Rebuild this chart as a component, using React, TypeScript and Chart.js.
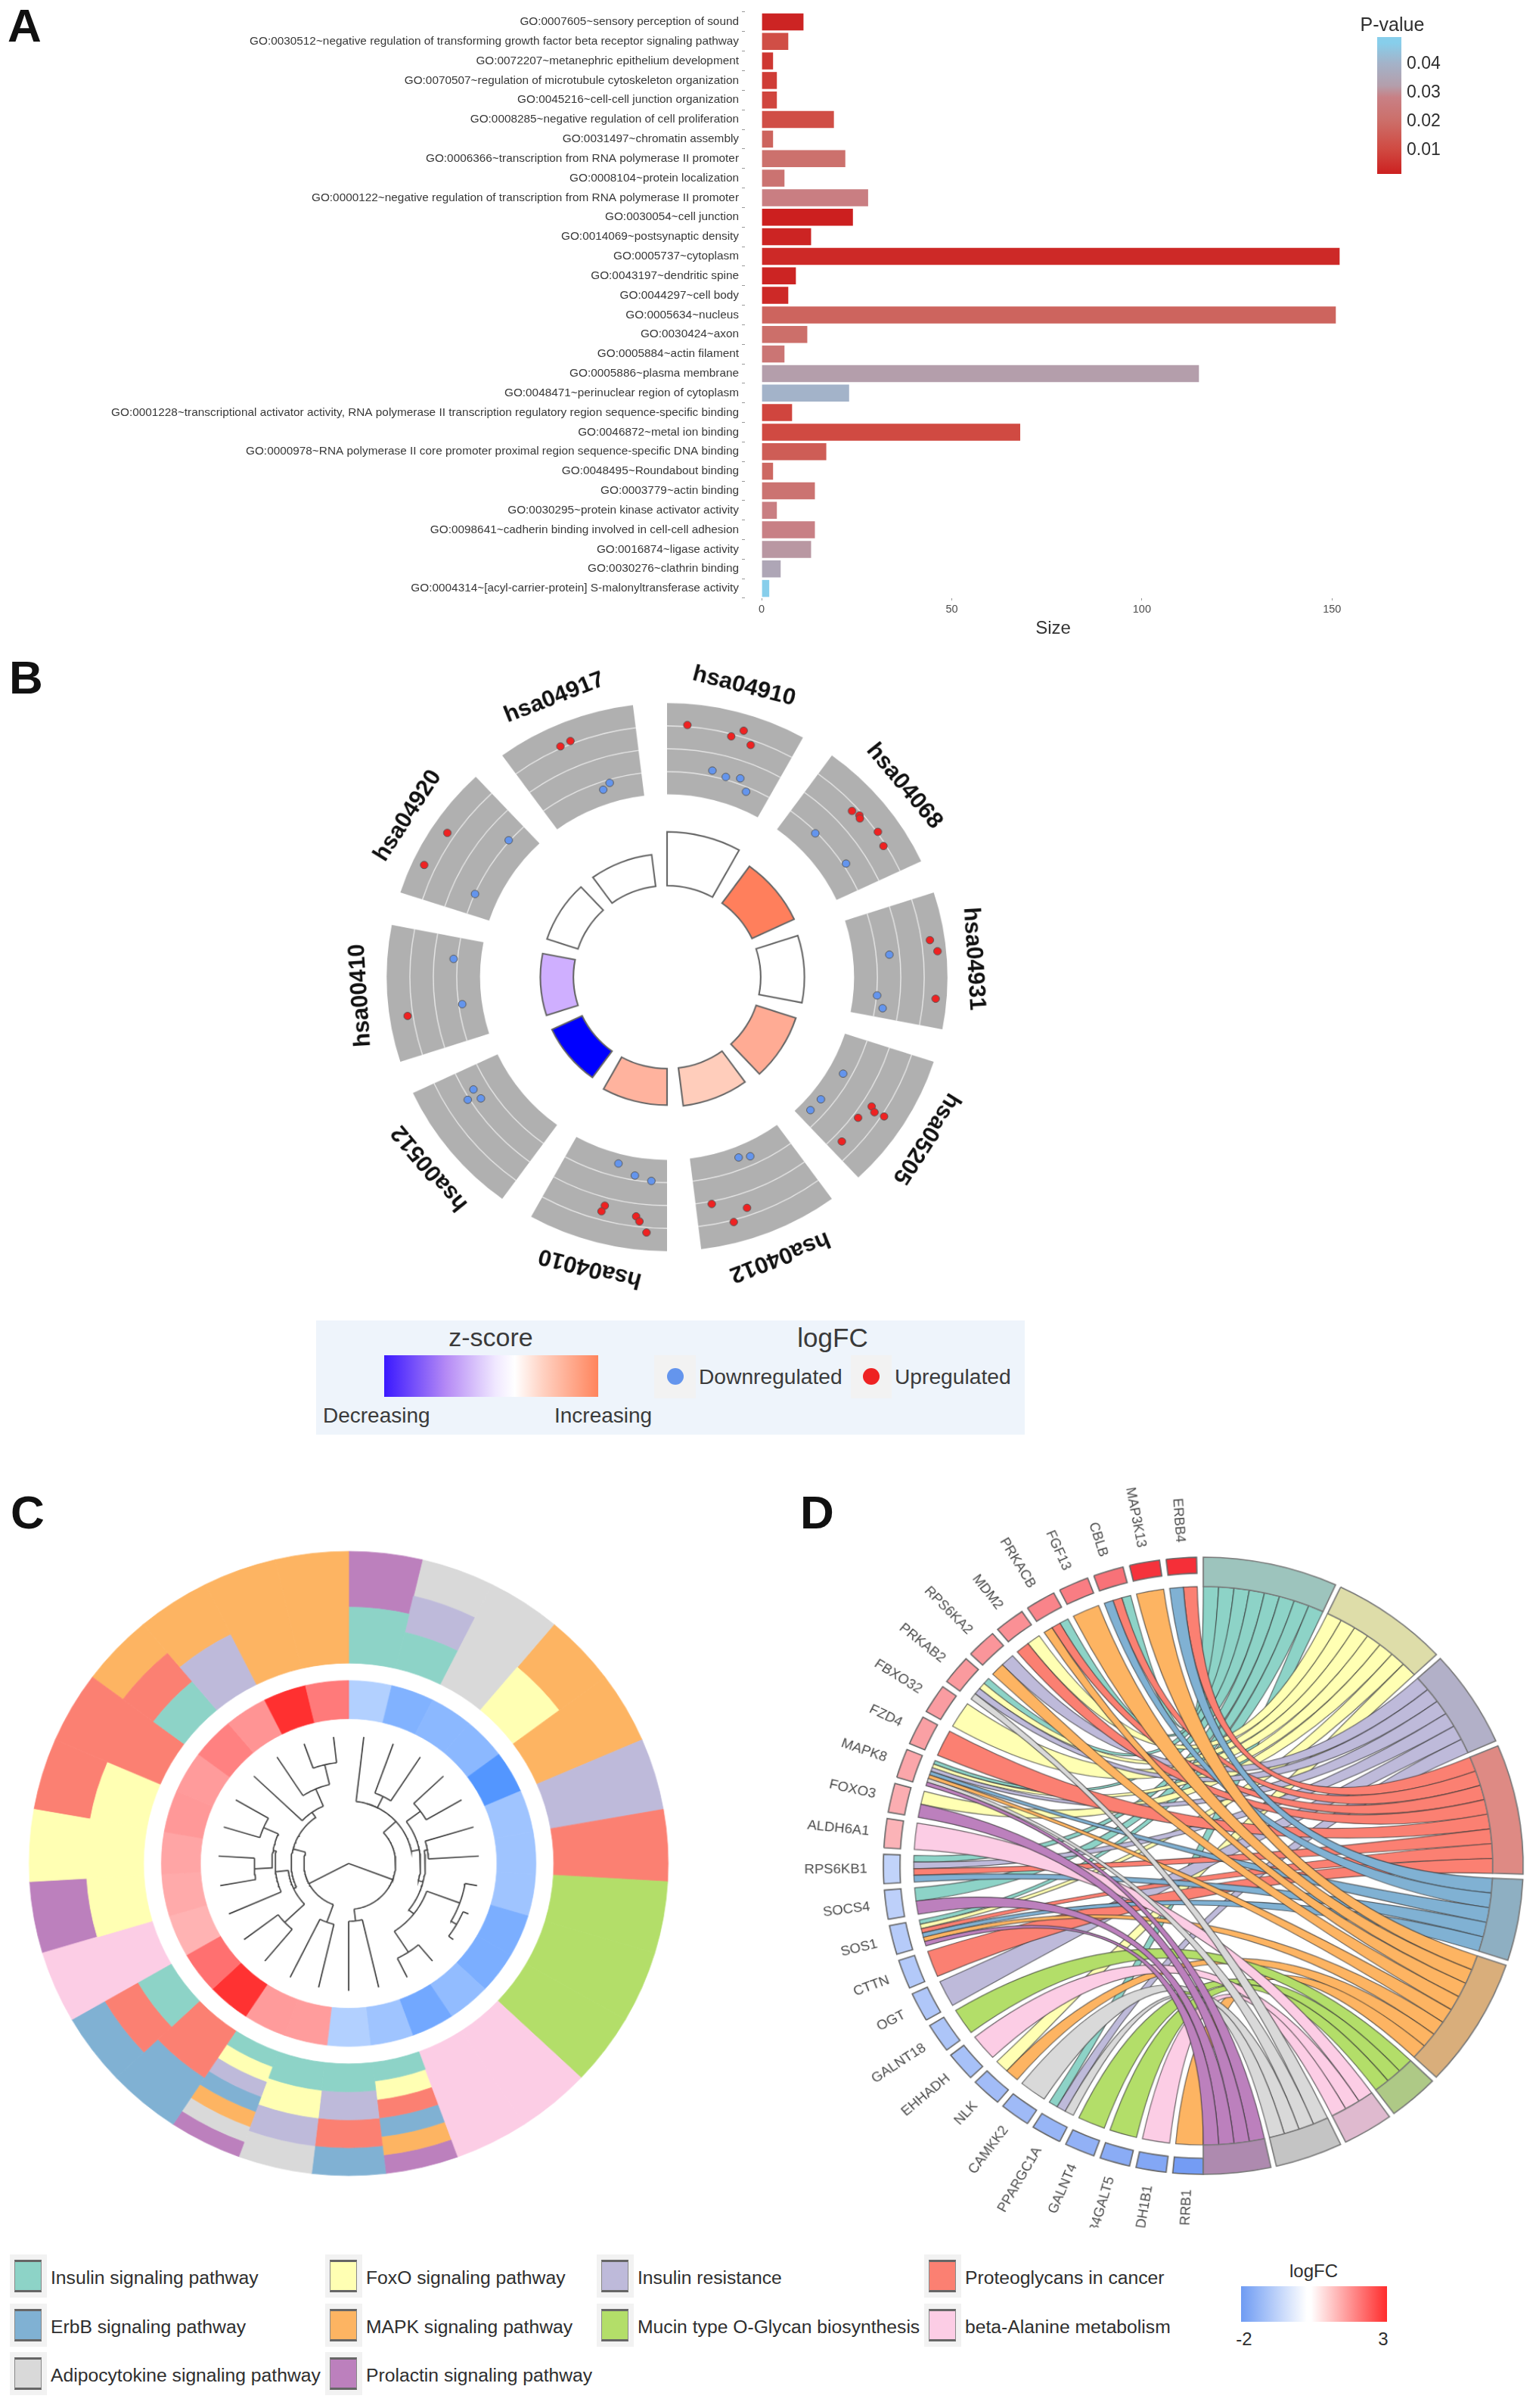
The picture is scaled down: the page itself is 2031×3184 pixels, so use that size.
import React, { useEffect, useRef } from "react";
import { Chart, registerables } from "chart.js";

Chart.register(...registerables);
const FONT = "'Liberation Sans', Arial, sans-serif";
Chart.defaults.font.family = FONT;

/* ---------- Panel A data ---------- */
const goLabels = [
  "GO:0007605~sensory perception of sound",
  "GO:0030512~negative regulation of transforming growth factor beta receptor signaling pathway",
  "GO:0072207~metanephric epithelium development",
  "GO:0070507~regulation of microtubule cytoskeleton organization",
  "GO:0045216~cell-cell junction organization",
  "GO:0008285~negative regulation of cell proliferation",
  "GO:0031497~chromatin assembly",
  "GO:0006366~transcription from RNA polymerase II promoter",
  "GO:0008104~protein localization",
  "GO:0000122~negative regulation of transcription from RNA polymerase II promoter",
  "GO:0030054~cell junction",
  "GO:0014069~postsynaptic density",
  "GO:0005737~cytoplasm",
  "GO:0043197~dendritic spine",
  "GO:0044297~cell body",
  "GO:0005634~nucleus",
  "GO:0030424~axon",
  "GO:0005884~actin filament",
  "GO:0005886~plasma membrane",
  "GO:0048471~perinuclear region of cytoplasm",
  "GO:0001228~transcriptional activator activity, RNA polymerase II transcription regulatory region sequence-specific binding",
  "GO:0046872~metal ion binding",
  "GO:0000978~RNA polymerase II core promoter proximal region sequence-specific DNA binding",
  "GO:0048495~Roundabout binding",
  "GO:0003779~actin binding",
  "GO:0030295~protein kinase activator activity",
  "GO:0098641~cadherin binding involved in cell-cell adhesion",
  "GO:0016874~ligase activity",
  "GO:0030276~clathrin binding",
  "GO:0004314~[acyl-carrier-protein] S-malonyltransferase activity",
];
const goSizes = [11, 7, 3, 4, 4, 19, 3, 22, 6, 28, 24, 13, 152, 9, 7, 151, 12, 6, 115, 23, 8, 68, 17, 3, 14, 4, 14, 13, 5, 2];
const goPValues = [0.002, 0.011, 0.006, 0.007, 0.009, 0.011, 0.017, 0.021, 0.022, 0.027, 0.001, 0.002, 0.003, 0.002, 0.003, 0.017, 0.02, 0.023, 0.032, 0.04, 0.009, 0.01, 0.015, 0.018, 0.022, 0.027, 0.028, 0.031, 0.035, 0.048];
const pStops: [number, string][] = [[0.001, "#cc1f1f"], [0.01, "#d04a42"], [0.02, "#cc6f6a"], [0.028, "#c88085"], [0.032, "#b49eab"], [0.04, "#a3b3c9"], [0.047, "#87ceeb"]];
const pTicks = ["0.04", "0.03", "0.02", "0.01"];

/* ---------- Panel B data ---------- */
const keggTerms = ["hsa04910", "hsa04068", "hsa04931", "hsa05205", "hsa04012", "hsa04010", "hsa00512", "hsa00410", "hsa04920", "hsa04917"];
const keggBarHeight = [0.53, 0.5, 0.49, 0.483, 0.473, 0.467, 0.453, 0.452, 0.45, 0.45];
const keggZColor = ["#ffffff", "#ff7f5c", "#ffffff", "#ffab94", "#ffcdbb", "#ffb39e", "#0000ff", "#cfafff", "#ffffff", "#ffffff"];
const upTheta = [4.5, 14.6, 16.9, 19.4, 47.4, 49.3, 49.9, 54.8, 58.2, 81.8, 84.4, 94.7, 122.9, 123.7, 127, 123.3, 133.9, 169.1, 161.3, 165.1, 194.9, 195.3, 187.2, 186.3, 184.5, 261.3, 303.9, 295.3, 338.2, 335.7];
const upRadial = [0.923, 0.908, 0.94, 0.898, 0.896, 0.905, 0.899, 0.92, 0.908, 0.947, 0.969, 0.961, 0.869, 0.889, 0.853, 0.926, 0.865, 0.843, 0.889, 0.925, 0.863, 0.886, 0.88, 0.897, 0.935, 0.936, 0.944, 0.958, 0.928, 0.924];
const downTheta = [12.1, 16, 19.8, 22.6, 45.2, 57, 84.1, 95.1, 98.4, 119.3, 129.1, 133.5, 158.8, 155.6, 194.3, 189, 184.3, 239.3, 236.3, 237.8, 275, 262.3, 311.5, 293.9, 343.9, 341.6];
const downRadial = [0.771, 0.76, 0.771, 0.733, 0.745, 0.761, 0.797, 0.752, 0.777, 0.72, 0.707, 0.705, 0.706, 0.718, 0.702, 0.733, 0.746, 0.803, 0.798, 0.84, 0.764, 0.737, 0.754, 0.749, 0.738, 0.721];

/* ---------- Panels C and D data ---------- */
const pathways = ["Insulin signaling pathway", "FoxO signaling pathway", "Insulin resistance", "Proteoglycans in cancer", "ErbB signaling pathway", "MAPK signaling pathway", "Mucin type O-Glycan biosynthesis", "beta-Alanine metabolism", "Adipocytokine signaling pathway", "Prolactin signaling pathway"];
const pathwayColors = ["#8dd3c7", "#ffffb3", "#bebada", "#fb8072", "#80b1d3", "#fdb462", "#b3de69", "#fccde5", "#d9d9d9", "#bc80bd"];
const pathwayMuted = ["#9dc4bd", "#dedda9", "#b2b0c8", "#de8a84", "#8eafc2", "#d9ae7b", "#aec986", "#dfbacf", "#c4c4c4", "#ae8aaf"];
const geneNames = ["RRB1", "ALDH1B1", "B4GALT5", "GALNT4", "PPARGC1A", "CAMKK2", "NLK", "EHHADH", "GALNT18", "OGT", "CTTN", "SOS1", "SOCS4", "RPS6KB1", "ALDH6A1", "FOXO3", "MAPK8", "FZD4", "FBXO32", "PRKAB2", "RPS6KA2", "MDM2", "PRKACB", "FGF13", "CBLB", "MAP3K13", "ERBB4"];
const geneLogFC = [-1.9, -1.7, -1.6, -1.5, -1.42, -1.32, -1.28, -1.2, -1.12, -1.08, -1.04, -1, -0.9, -0.85, 1.02, 1.1, 1.2, 1.28, 1.33, 1.36, 1.42, 1.5, 1.65, 1.75, 1.9, 2.75, 2.8];
const genePathways = [[5], [7], [6], [6], [0, 2, 8], [8], [1, 5], [7], [6], [2], [3], [0, 1, 3, 4, 5, 9], [0, 9], [0, 2, 3, 4], [7], [1, 9], [0, 1, 2, 4, 5, 8, 9], [3], [1], [0, 1, 2, 8], [2, 5], [1, 3], [0, 3, 5], [5], [0, 3, 4], [5], [3, 4]];
const clusterOrder = ["SOCS4", "PPARGC1A", "CAMKK2", "NLK", "RRB1", "OGT", "CTTN", "GALNT18", "GALNT4", "B4GALT5", "EHHADH", "ALDH1B1", "SOS1", "RPS6KB1", "PRKAB2", "MAPK8", "ERBB4", "CBLB", "ALDH6A1", "FOXO3", "FBXO32", "MDM2", "FZD4", "PRKACB", "RPS6KA2", "MAP3K13", "FGF13"];
const clusterLogFC = [-0.85, -1.39, -1.28, -1.28, -1.9, -1.06, -1.06, -1.06, -1.46, -1.46, -1.2, -1.56, -1.06, -0.85, 1.33, 1.35, 2.76, 1.92, 1.02, 1.14, 1.21, 1.38, 1.35, 1.7, 1.44, 2.78, 1.79];
// nested dendrogram: [joinHeight, childA, childB]; numbers are leaf positions
const dendroTree: any = [0,
  [0.14,
    [0.18,
      [0.2, 23, [0.26, 24, [0.325, 25, 26]]],
      [0.19, [0.275, 16, 17], [0.23, 18, [0.24, [0.295, 19, 20], [0.29, 21, 22]]]]],
    [0.2, 14, 15]],
  [0.147,
    [0.2,
      [0.2, 0, [0.24, 1, 2]],
      [0.225, [0.28, 3, 4], [0.24, [0.25, 5, 6], [0.26, [0.37, 7, [0.39, 8, 9]], [0.34, 10, 11]]]]],
    [0.185, 12, 13]],
];

/* ---------- layout constants ---------- */
const SIZE = 1000;
const EXT = 1.25;
const T = "rgba(0,0,0,0)";
const rad = (d: number) => (d * Math.PI) / 180;
const polar = (theta: number, r: number) => ({ x: r * Math.sin(rad(theta)), y: r * Math.cos(rad(theta)) });

const hex = (c: string) => [1, 3, 5].map((i) => parseInt(c.slice(i, i + 2), 16));
const mix = (a: string, b: string, t: number) => {
  const A = hex(a), B = hex(b);
  return `rgb(${A.map((v, i) => Math.round(v + (B[i] - v) * t)).join(",")})`;
};
const pColor = (p: number) => {
  if (p <= pStops[0][0]) return pStops[0][1];
  for (let i = 1; i < pStops.length; i++) {
    if (p <= pStops[i][0]) return mix(pStops[i - 1][1], pStops[i][1], (p - pStops[i - 1][0]) / (pStops[i][0] - pStops[i - 1][0]));
  }
  return pStops[pStops.length - 1][1];
};
const fcColor = (v: number, lo: string, hi: string) => (v < 0 ? mix("#ffffff", lo, Math.min(1, -v / 2)) : mix("#ffffff", hi, Math.min(1, v / 3)));

const radialBands = {
  id: "radialBands",
  afterDatasetsUpdate(chart: any) {
    const R = chart.chartArea.width / 2 / EXT;
    chart.data.datasets.forEach((ds: any, i: number) => {
      if (!ds.bandInner) return;
      chart.getDatasetMeta(i).data.forEach((arc: any, j: number) => {
        arc.innerRadius = R * ds.bandInner[j];
        arc.outerRadius = R * ds.bandOuter[j];
      });
    });
  },
};

const polarOptions = (): any => ({
  responsive: false,
  animation: false,
  events: [],
  rotation: 0,
  layout: { padding: 0 },
  scales: {
    x: { type: "linear", display: false, min: -EXT, max: EXT },
    y: { type: "linear", display: false, min: -EXT, max: EXT },
  },
  plugins: { legend: { display: false }, tooltip: { enabled: false } },
});

/* ---------- chart builders ---------- */
function buildA(canvas: HTMLCanvasElement) {
  return new Chart(canvas, {
    type: "bar",
    data: {
      labels: goLabels,
      datasets: [{ data: goSizes, backgroundColor: goPValues.map(pColor), barPercentage: 0.87, categoryPercentage: 1, borderWidth: 0 }],
    },
    options: {
      indexAxis: "y",
      responsive: false,
      animation: false,
      events: [],
      layout: { padding: { top: 16 } },
      plugins: { legend: { display: false }, tooltip: { enabled: false } },
      scales: {
        x: {
          type: "linear", min: -4.4, max: 157.7,
          ticks: { stepSize: 50, includeBounds: false, maxRotation: 0, font: { size: 14.5 }, color: "#4d4d4d", padding: 3 },
          grid: { display: true, drawOnChartArea: false, drawTicks: true, tickLength: 3, color: "#999" },
          border: { display: false },
          title: { display: true, text: "Size", color: "#333", font: { size: 24 }, padding: { top: 4, bottom: 0 } },
          afterFit(s: any) { s.height = 55; },
        },
        y: {
          type: "category",
          ticks: { autoSkip: false, font: { size: 15.35 }, color: "#383838", padding: 4 },
          grid: { display: true, drawOnChartArea: false, drawTicks: true, tickLength: 4, color: "#999" },
          border: { display: false },
          afterFit(s: any) { s.width = 985; },
        },
      },
    } as any,
  });
}

const SPAN = 29, GAP = 7;
function buildB(canvas: HTMLCanvasElement) {
  const slots = keggTerms.flatMap(() => [SPAN, GAP]);
  const alt = (a: any, b: any) => keggTerms.flatMap((_, i) => [typeof a === "function" ? a(i) : a, b]);
  const line = (r: number) => ({
    data: slots, backgroundColor: alt("#e4e4e4", T), borderWidth: 0,
    bandInner: slots.map(() => r - 0.002), bandOuter: slots.map(() => r + 0.002),
  });
  const toPts = (th: number[], rr: number[]) => th.map((t, i) => polar(t, rr[i]));
  const labels = {
    id: "keggLabels",
    afterDatasetsDraw(chart: any) {
      const { ctx, scales } = chart;
      ctx.save();
      ctx.font = `bold 33px ${FONT}`;
      ctx.fillStyle = "#111";
      ctx.textAlign = "center";
      ctx.textBaseline = "middle";
      keggTerms.forEach((name, i) => {
        const th = SPAN / 2 + 36 * i;
        const p = polar(th, 1.096);
        ctx.save();
        ctx.translate(scales.x.getPixelForValue(p.x), scales.y.getPixelForValue(p.y));
        ctx.rotate(rad(th));
        ctx.fillText(name, 0, 0);
        ctx.restore();
      });
      ctx.restore();
    },
  };
  return new Chart(canvas, {
    type: "doughnut",
    data: {
      datasets: [
        { type: "scatter", indexAxis: "x", order: -2, data: toPts(upTheta, upRadial), backgroundColor: "#ee2222", borderColor: "#555", borderWidth: 1, pointRadius: 5.4 },
        { type: "scatter", indexAxis: "x", order: -2, data: toPts(downTheta, downRadial), backgroundColor: "#6495ed", borderColor: "#555", borderWidth: 1, pointRadius: 5.4 },
        line(0.75), line(0.8335), line(0.917),
        {
          data: slots, backgroundColor: alt("#b0b0b0", T), borderWidth: 0,
          bandInner: slots.map(() => 0.667), bandOuter: slots.map(() => 1),
        },
        {
          data: slots, backgroundColor: alt((i: number) => keggZColor[i], T),
          borderColor: alt("#666", T), borderWidth: alt(2.2, 0), borderJoinStyle: "miter",
          bandInner: slots.map(() => 0.334), bandOuter: keggTerms.flatMap((_, i) => [keggBarHeight[i], 0.334]),
        },
      ] as any,
    },
    options: polarOptions(),
    plugins: [radialBands, labels],
  });
}

function treeLines(node: any, slot: number, out: any[]): { theta: number; r: number } {
  const LEAF_R = 0.408;
  if (typeof node === "number") return { theta: (node + 0.5) * slot, r: LEAF_R };
  const [h, a, b] = node;
  const ca = treeLines(a, slot, out);
  const cb = treeLines(b, slot, out);
  const arc: any[] = [];
  const lo = Math.min(ca.theta, cb.theta), hi = Math.max(ca.theta, cb.theta);
  for (let t = lo; t < hi; t += 1.5) arc.push(polar(t, h));
  arc.push(polar(hi, h));
  if (h > 0) out.push(arc);
  out.push([polar(ca.theta, h), polar(ca.theta, ca.r)]);
  out.push([polar(cb.theta, h), polar(cb.theta, cb.r)]);
  return { theta: (ca.theta + cb.theta) / 2, r: h };
}

function buildC(canvas: HTMLCanvasElement) {
  const slots = clusterOrder.map(() => 1);
  const slot = 360 / clusterOrder.length;
  const members = clusterOrder.map((g) => genePathways[geneNames.indexOf(g)]);
  const IN = 0.642, OUT = 1;
  const bandSets: any[] = [];
  for (let k = 0; k < 7; k++) {
    const colors = members.map((m) => (k < m.length ? pathwayColors[m[k]] : T));
    bandSets.push({
      data: slots, backgroundColor: colors, borderColor: colors, borderWidth: 0.8,
      bandInner: members.map((m) => IN + (k * (OUT - IN)) / m.length),
      bandOuter: members.map((m) => IN + ((k + 1) * (OUT - IN)) / m.length),
    });
  }
  const heat = clusterLogFC.map((v) => fcColor(v, "#4a90ff", "#ff2020"));
  const lines: any[] = [];
  treeLines(dendroTree, slot, lines);
  return new Chart(canvas, {
    type: "doughnut",
    data: {
      datasets: [
        ...bandSets,
        { data: slots, backgroundColor: heat, borderColor: heat, borderWidth: 0.8, bandInner: slots.map(() => 0.464), bandOuter: slots.map(() => 0.586) },
        ...lines.map((pts) => ({ type: "scatter", indexAxis: "x", order: -1, data: pts, showLine: true, borderColor: "#444", borderWidth: 1.7, pointRadius: 0, tension: 0 })),
      ] as any,
    },
    options: polarOptions(),
    plugins: [radialBands],
  });
}

function buildD(canvas: HTMLCanvasElement, clipY: number) {
  const n = geneNames.length;
  const geneStep = 180 / n, geneSpan = 5.47;
  const TERM_GAP = 1;
  const counts = pathways.map((_, t) => genePathways.filter((m) => m.includes(t)).length);
  const unit = (180 - TERM_GAP * (pathways.length - 1)) / counts.reduce((a, b) => a + b, 0);
  const termStart: number[] = [];
  counts.reduce((acc, c, i) => { termStart[i] = acc; return acc + c * unit + TERM_GAP; }, 0);

  const termSlots: number[] = [];
  const termColors: string[] = [];
  const termBorders: string[] = [];
  const termWidths: number[] = [];
  counts.forEach((c, i) => {
    termSlots.push(c * unit);
    termColors.push(pathwayMuted[i]);
    termBorders.push("#777");
    termWidths.push(1.6);
    if (i < counts.length - 1) {
      termSlots.push(TERM_GAP); termColors.push(T); termBorders.push(T); termWidths.push(0);
    }
  });
  termSlots.push(180); termColors.push(T); termBorders.push(T); termWidths.push(0);

  const geneSlots: number[] = [180];
  const geneColors: string[] = [T];
  const geneBorders: string[] = [T];
  const geneWidths: number[] = [0];
  geneNames.forEach((_, i) => {
    geneSlots.push(geneSpan, geneStep - geneSpan);
    geneColors.push(fcColor(geneLogFC[i], "#6d97f3", "#f4202a"), T);
    geneBorders.push("#666", T);
    geneWidths.push(1.6, 0);
  });

  const RIB = 0.905;
  // ribbon ends for every gene-pathway pair
  const links: { t: number; a1: number; a2: number; t1: number; t2: number }[] = [];
  const linkPos: Record<string, [number, number]> = {};
  genePathways.forEach((m, g) => {
    const w = geneSpan / m.length;
    const desc = [...m].sort((a, b) => b - a);
    desc.forEach((t, k) => {
      const s = 180 + g * geneStep + k * w;
      linkPos[`${g}-${t}`] = [s, s + w];
    });
  });
  pathways.forEach((_, t) => {
    let pos = termStart[t];
    for (let g = n - 1; g >= 0; g--) {
      if (!genePathways[g].includes(t)) continue;
      const [a1, a2] = linkPos[`${g}-${t}`];
      links.push({ t, a1, a2, t1: pos, t2: pos + unit });
      pos += unit;
    }
  });

  const ribbons = {
    id: "ribbons",
    beforeDatasetsDraw(chart: any) {
      const { ctx, scales } = chart;
      const px = (th: number, r: number) => {
        const p = polar(th, r);
        return [scales.x.getPixelForValue(p.x), scales.y.getPixelForValue(p.y)];
      };
      const [cx, cy] = px(0, 0);
      const R = scales.x.getPixelForValue(RIB) - cx;
      ctx.save();
      ctx.lineWidth = 1.2;
      ctx.strokeStyle = "rgba(50,50,50,0.7)";
      links.forEach((l) => {
        const [ax, ay] = px(l.a1, RIB);
        const [tx, ty] = px(l.t1, RIB);
        ctx.beginPath();
        ctx.moveTo(tx, ty);
        ctx.arc(cx, cy, R, rad(l.t1 - 90), rad(l.t2 - 90));
        ctx.quadraticCurveTo(cx, cy, ax, ay);
        ctx.arc(cx, cy, R, rad(l.a1 - 90), rad(l.a2 - 90));
        ctx.quadraticCurveTo(cx, cy, tx, ty);
        ctx.closePath();
        ctx.fillStyle = pathwayColors[l.t];
        ctx.fill();
        ctx.stroke();
      });
      ctx.restore();
    },
    afterDatasetsDraw(chart: any) {
      const { ctx, scales, width } = chart;
      ctx.save();
      ctx.beginPath();
      ctx.rect(0, 0, width, clipY);
      ctx.clip();
      ctx.font = `17.5px ${FONT}`;
      ctx.fillStyle = "#4a4a4a";
      ctx.textAlign = "right";
      ctx.textBaseline = "middle";
      geneNames.forEach((name, g) => {
        const th = 180 + g * geneStep + geneSpan / 2;
        const p = polar(th, 1.05);
        ctx.save();
        ctx.translate(scales.x.getPixelForValue(p.x), scales.y.getPixelForValue(p.y));
        ctx.rotate(rad(th - 270));
        ctx.fillText(name, 0, 0);
        ctx.restore();
      });
      ctx.restore();
    },
  };

  return new Chart(canvas, {
    type: "doughnut",
    data: {
      datasets: [
        { data: termSlots, backgroundColor: termColors, borderColor: termBorders, borderWidth: termWidths, borderJoinStyle: "miter", bandInner: termSlots.map(() => RIB), bandOuter: termSlots.map(() => 1) },
        { data: geneSlots, backgroundColor: geneColors, borderColor: geneBorders, borderWidth: geneWidths, borderJoinStyle: "miter", bandInner: geneSlots.map(() => 0.948), bandOuter: geneSlots.map(() => 1) },
      ] as any,
    },
    options: polarOptions(),
    plugins: [radialBands, ribbons],
  });
}

/* ---------- DOM helpers ---------- */
const Label = ({ x, y, size, color = "#2e2e2e", align = "left", bold = false, children }: any) => (
  <div
    style={{
      position: "absolute", left: x, top: y, fontSize: size, lineHeight: 1, color, whiteSpace: "nowrap",
      fontWeight: bold ? 700 : 400, fontFamily: FONT,
      transform: `translate(${align === "center" ? "-50%" : align === "right" ? "-100%" : "0"}, -50%)`,
    }}
  >
    {children}
  </div>
);
const Box = ({ x, y, w, h, style }: any) => (
  <div style={{ position: "absolute", left: x, top: y, width: w, height: h, boxSizing: "border-box", ...style }} />
);

const ringStyle = (cx: number, cy: number, rx: number, ry: number): React.CSSProperties => ({
  position: "absolute",
  left: cx - SIZE / 2,
  top: cy - SIZE / 2,
  transform: `scale(${rx / 400},${ry / 400})`,
  transformOrigin: "center center",
});

const B_POS = { cx: 882, cy: 1292, rx: 375.6, ry: 367 };
const C_POS = { cx: 460.7, cy: 2464, rx: 422.5, ry: 412.7 };
const D_POS = { cx: 1590.7, cy: 2467, rx: 423, ry: 408 };

const legendCols = [19, 436, 795, 1228];
const legendRows = [3009, 3074, 3138];
const legendLayout = [
  [0, 0, 0], [1, 0, 1], [2, 0, 2], [3, 0, 3],
  [4, 1, 0], [5, 1, 1], [6, 1, 2], [7, 1, 3],
  [8, 2, 0], [9, 2, 1],
];

export default function App() {
  const a = useRef<HTMLCanvasElement>(null);
  const b = useRef<HTMLCanvasElement>(null);
  const c = useRef<HTMLCanvasElement>(null);
  const d = useRef<HTMLCanvasElement>(null);

  useEffect(() => {
    const clipY = SIZE / 2 + ((2945 - D_POS.cy) * 400) / D_POS.ry;
    const charts = [buildA(a.current!), buildB(b.current!), buildC(c.current!), buildD(d.current!, clipY)];
    return () => charts.forEach((ch) => ch.destroy());
  }, []);

  const pGrad = [...pStops].reverse().map(([p, col]) => `${col} ${(((0.049 - p) / (0.049 - 0.0013)) * 100).toFixed(1)}%`).join(",");

  return (
    <div style={{ position: "absolute", left: 0, top: 0, width: 2031, height: 3184, overflow: "hidden", background: "#fff", fontFamily: FONT, filter: "blur(0.5px)" }}>
      <Label x={10} y={34} size={62} color="#111" bold>A</Label>
      <Label x={12} y={896} size={62} color="#111" bold>B</Label>
      <Label x={14} y={2000} size={62} color="#111" bold>C</Label>
      <Label x={1058} y={2000} size={62} color="#111" bold>D</Label>

      <canvas ref={a} width={1800} height={846} style={{ position: "absolute", left: 0, top: 0 }} />
      <Label x={1841} y={32} size={25} align="center">P-value</Label>
      <Box x={1821} y={49} w={32} h={181} style={{ background: `linear-gradient(180deg,${pGrad})` }} />
      {pTicks.map((t, i) => (
        <Label key={t} x={1860} y={83 + i * 38} size={23}>{t}</Label>
      ))}

      <canvas ref={b} width={SIZE} height={SIZE} style={ringStyle(B_POS.cx, B_POS.cy, B_POS.rx, B_POS.ry)} />
      <Box x={418} y={1746} w={937} h={151} style={{ background: "#eef4fb" }} />
      <Label x={649} y={1768} size={34} align="center" color="#3a3a3a">z-score</Label>
      <Box x={508} y={1792} w={283} h={55} style={{ background: "linear-gradient(90deg,#3a18ff 0%,#b58af5 29%,#f0e8ff 52%,#ffffff 61%,#ffd0c0 74.5%,#ff845c 100%)" }} />
      <Label x={427} y={1872} size={28} color="#3a3a3a">Decreasing</Label>
      <Label x={733} y={1872} size={28} color="#3a3a3a">Increasing</Label>
      <Label x={1101} y={1768} size={35} align="center" color="#3a3a3a">logFC</Label>
      <Box x={865} y={1792} w={55} h={57} style={{ background: "#f2f2f2" }} />
      <Box x={882} y={1809} w={22} h={22} style={{ background: "#6495ed", borderRadius: "50%" }} />
      <Label x={924} y={1820} size={28.2} color="#3a3a3a">Downregulated</Label>
      <Box x={1125} y={1792} w={54} h={57} style={{ background: "#f2f2f2" }} />
      <Box x={1141} y={1809} w={22} h={22} style={{ background: "#ee2222", borderRadius: "50%" }} />
      <Label x={1183} y={1820} size={28.2} color="#3a3a3a">Upregulated</Label>

      <canvas ref={c} width={SIZE} height={SIZE} style={ringStyle(C_POS.cx, C_POS.cy, C_POS.rx, C_POS.ry)} />
      <canvas ref={d} width={SIZE} height={SIZE} style={ringStyle(D_POS.cx, D_POS.cy, D_POS.rx, D_POS.ry)} />

      {legendLayout.map(([p, row, col]) => (
        <React.Fragment key={p}>
          <Box x={legendCols[col] - 6} y={legendRows[row] - 28} w={49} h={57} style={{ background: "#f2f2f2" }} />
          <Box x={legendCols[col]} y={legendRows[row] - 21} w={36} h={43} style={{ background: pathwayColors[p], borderTop: "3px solid #666", borderBottom: "3px solid #666", borderLeft: "1px solid #888", borderRight: "1px solid #888" }} />
          <Label x={legendCols[col] + 48} y={legendRows[row] + 3} size={24.7}>{pathways[p]}</Label>
        </React.Fragment>
      ))}
      <Label x={1737} y={3003} size={24} align="center">logFC</Label>
      <Box x={1641} y={3023} w={193} h={47} style={{ background: "linear-gradient(90deg,#6e9bf3 0%,#ffffff 45%,#ffffff 48%,#ff2c2c 100%)" }} />
      <Label x={1645} y={3093} size={24} align="center">-2</Label>
      <Label x={1829} y={3093} size={24} align="center">3</Label>
    </div>
  );
}
